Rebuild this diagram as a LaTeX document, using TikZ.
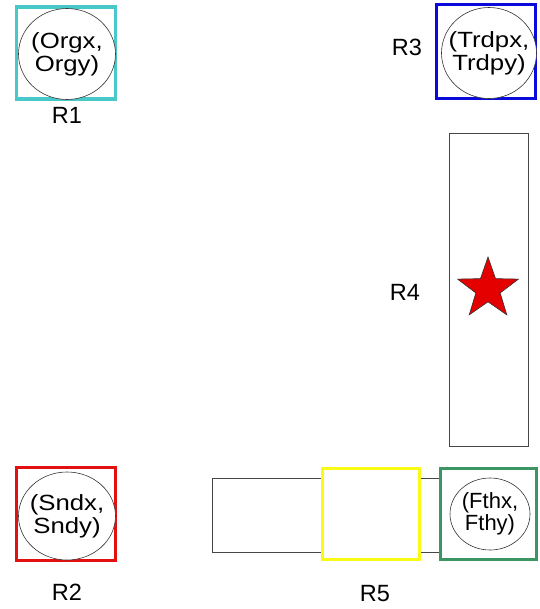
\documentclass[tikz,border=0pt]{standalone}
\usepackage{fontspec}
\setmainfont{Liberation Sans}
\newfontfamily\widefont[FakeStretch=1.17]{Liberation Sans}
\usetikzlibrary{shapes.geometric}
\definecolor{cyanbox}{RGB}{72,200,200}
\definecolor{bluebox}{RGB}{10,10,220}
\definecolor{redbox}{RGB}{228,16,16}
\definecolor{yellowbox}{RGB}{250,250,20}
\definecolor{greenbox}{RGB}{60,150,100}
\definecolor{thinline}{RGB}{70,70,70}
\begin{document}
\begin{tikzpicture}[x=1pt,y=-1pt,
  frame/.style={draw, line width=3.5pt, fill=white, inner sep=0pt, anchor=center},
  plainbox/.style={draw=thinline, line width=1pt, fill=white, inner sep=0pt, anchor=center},
  disc/.style={ellipse, draw=black!80, line width=0.6pt, fill=white, align=center,
    font=\widefont\fontsize{22}{23}\selectfont, inner sep=-30pt, anchor=center},
  lbl/.style={font=\fontsize{23.5}{26}\selectfont, inner sep=0pt, anchor=center}]
\useasboundingbox (0,0) rectangle (539,609);

% R1
\node[frame, draw=cyanbox, minimum width=99pt, minimum height=92pt] (r1box) at (66,53) {};
\node[disc, minimum width=97pt, minimum height=91pt] (r1disc) at (67,54) {(Orgx,\\Orgy)};
\node[lbl] (r1lbl) at (67,115) {R1};

% R3
\node[frame, draw=bluebox, minimum width=99pt, minimum height=94pt] (r3box) at (486,51.5) {};
\node[disc, minimum width=95pt, minimum height=91pt] (r3disc) at (489,53) {(Trdpx,\\Trdpy)};
\node[lbl] (r3lbl) at (407,47) {R3};

% R4
\node[plainbox, minimum width=79pt, minimum height=312pt] (r4box) at (488.5,290) {};
\node[star, star points=5, star point ratio=2.5, draw=black!80, line width=0.6pt, fill=red!90!black,
  minimum size=64pt, inner sep=0pt] (goal) at (488,289) {};
\node[lbl] (r4lbl) at (405,292) {R4};

% R2
\node[frame, draw=redbox, minimum width=99pt, minimum height=93pt] (r2box) at (66,514) {};
\node[disc, minimum width=97pt, minimum height=88pt] (r2disc) at (67,516) {(Sndx,\\Sndy)};
\node[lbl] (r2lbl) at (67,592) {R2};

% R5
\node[plainbox, minimum width=228pt, minimum height=74pt] (r5rect) at (326,515) {};
\node[frame, draw=yellowbox, minimum width=97pt, minimum height=91pt] (r5box) at (371,514) {};
\node[frame, draw=greenbox, minimum width=96pt, minimum height=91pt] (r6box) at (488.5,514) {};
\node[disc, font=\fontsize{22}{22.5}\selectfont, minimum width=80pt, minimum height=72pt] (r6disc) at (490,514) {(Fthx,\\Fthy)};
\node[lbl] (r5lbl) at (375,594) {R5};
\end{tikzpicture}
\end{document}
